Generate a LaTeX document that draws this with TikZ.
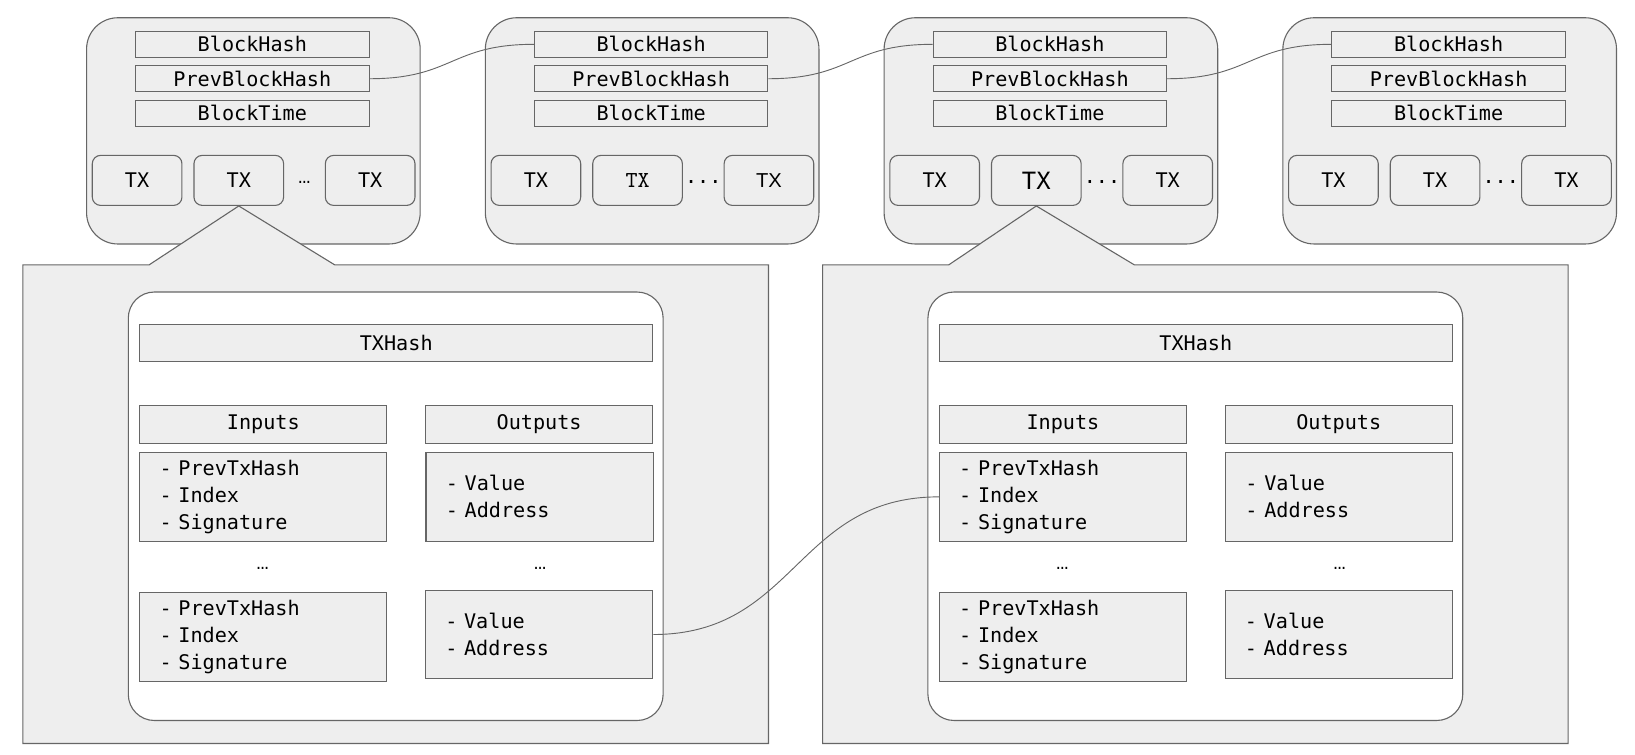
\documentclass[tikz,border=0pt]{standalone}
\usepackage{fontspec}
\setmonofont{DejaVu Sans Mono}
\setsansfont{Liberation Sans}
\newfontfamily\oldmono{lmmono10-regular.otf}
\newfontfamily\dotfont{Liberation Mono}
\definecolor{boxgray}{HTML}{EEEEEE}
\definecolor{linegray}{HTML}{666666}
\begin{document}
\begin{tikzpicture}[x=0.02cm, y=-0.02cm, line width=0.6pt,
    font=\fontsize{11}{14.8}\selectfont\ttfamily,
    block/.style={draw=linegray, fill=boxgray, rounded corners=0.6cm, minimum width=6.4cm, minimum height=4.34cm},
    field/.style={draw=linegray, fill=boxgray, minimum width=4.48cm, minimum height=0.5cm, inner sep=0pt},
    txbox/.style={draw=linegray, fill=boxgray, rounded corners=0.16cm, minimum width=1.72cm, minimum height=0.96cm, inner sep=0pt},
    callout/.style={draw=linegray, fill=boxgray},
    panel/.style={draw=linegray, fill=white, rounded corners=0.5cm, minimum width=10.26cm, minimum height=8.22cm},
    part/.style={draw=linegray, fill=boxgray, minimum height=0.72cm, inner sep=0pt},
    list/.style={draw=linegray, fill=boxgray, align=left, inner xsep=0.38cm, inner ysep=0pt, minimum height=1.7cm},
    more/.style={font=\fontsize{11}{14.8}\selectfont\dotfont},
    link/.style={draw=linegray, line width=0.5pt}]
      \useasboundingbox (0,0) rectangle (1568,724);
      \node[block] (b1) at (243,125.5) {};
      \node[field] (b1hash) at (242,42.5) {BlockHash};
      \node[field] (b1prev) at (242,75.5) {PrevBlockHash};
      \node[field] (b1time) at (242,108.5) {BlockTime};
      \node[txbox] (b1tx1) at (131.5,173) {TX};
      \node[txbox] (b1tx2) at (229,173) {TX};
      \node[txbox] (b1tx3) at (355,173) {TX};
      \node[more] (b1dots) at (292,175) {…};
      \begin{scope}[xshift=7.65cm]
      \node[block] (b2) at (243,125.5) {};
      \node[field] (b2hash) at (242,42.5) {BlockHash};
      \node[field] (b2prev) at (242,75.5) {PrevBlockHash};
      \node[field] (b2time) at (242,108.5) {BlockTime};
      \node[txbox] (b2tx1) at (131.5,173) {TX};
      \node[txbox] (b2tx2) at (229,173) {\fontsize{12.5}{15}\oldmono TX};
      \node[txbox] (b2tx3) at (355,173) {\sffamily TX};
      \node (b2dots) at (292,175) {...};
      \end{scope}
      \begin{scope}[xshift=15.3cm]
      \node[block] (b3) at (243,125.5) {};
      \node[field] (b3hash) at (242,42.5) {BlockHash};
      \node[field] (b3prev) at (242,75.5) {PrevBlockHash};
      \node[field] (b3time) at (242,108.5) {BlockTime};
      \node[txbox] (b3tx1) at (131.5,173) {TX};
      \node[txbox] (b3tx2) at (229,173) {\fontsize{13}{15}\selectfont TX};
      \node[txbox] (b3tx3) at (355,173) {TX};
      \node (b3dots) at (292,175) {...};
      \end{scope}
      \begin{scope}[xshift=22.95cm]
      \node[block] (b4) at (243,125.5) {};
      \node[field] (b4hash) at (242,42.5) {BlockHash};
      \node[field] (b4prev) at (242,75.5) {PrevBlockHash};
      \node[field] (b4time) at (242,108.5) {BlockTime};
      \node[txbox] (b4tx1) at (131.5,173) {TX};
      \node[txbox] (b4tx2) at (229,173) {TX};
      \node[txbox] (b4tx3) at (355,173) {TX};
      \node (b4dots) at (292,175) {...};
      \end{scope}
      \draw[callout] (22,254) -- (143,254) -- (b1tx2.south) -- (321,254) -- (737,254) -- (737,713) -- (22,713) -- cycle;
      \node[panel] (tx) at (379.5,485.5) {};
      \node[part, minimum width=9.84cm] (txhash) at (380,329) {TXHash};
      \node[part, minimum width=4.74cm] (inputs) at (252.5,407) {Inputs};
      \node[part, minimum width=4.36cm] (outputs) at (517,407) {Outputs};
      \node[list, text width=3.98cm] (in1) at (252.5,476.5) {- PrevTxHash\\- Index\\- Signature};
      \node[list, text width=3.6cm] (out1) at (517.5,476.5) {- Value\\- Address};
      \node[more] (indots) at (252,545) {…};
      \node[more] (outdots) at (518,545) {…};
      \node[list, text width=3.98cm] (in2) at (252.5,611) {- PrevTxHash\\- Index\\- Signature};
      \node[list, text width=3.6cm] (out2) at (517,608.5) {- Value\\- Address};
      \begin{scope}[xshift=15.34cm]
      \draw[callout] (22,254) -- (143,254) -- (b3tx2.south) -- (321,254) -- (737,254) -- (737,713) -- (22,713) -- cycle;
      \node[panel] (rtx) at (379.5,485.5) {};
      \node[part, minimum width=9.84cm] (rtxhash) at (380,329) {TXHash};
      \node[part, minimum width=4.74cm] (rinputs) at (252.5,407) {Inputs};
      \node[part, minimum width=4.36cm] (routputs) at (517,407) {Outputs};
      \node[list, text width=3.98cm] (rin1) at (252.5,476.5) {- PrevTxHash\\- Index\\- Signature};
      \node[list, text width=3.6cm] (rout1) at (517.5,476.5) {- Value\\- Address};
      \node[more] (rindots) at (252,545) {…};
      \node[more] (routdots) at (518,545) {…};
      \node[list, text width=3.98cm] (rin2) at (252.5,611) {- PrevTxHash\\- Index\\- Signature};
      \node[list, text width=3.6cm] (rout2) at (517,608.5) {- Value\\- Address};
      \end{scope}
      \draw[link] (b1prev.east) .. controls +(1.6cm,0) and +(-1.6cm,0) .. (b2hash.west);
      \draw[link] (b2prev.east) .. controls +(1.6cm,0) and +(-1.6cm,0) .. (b3hash.west);
      \draw[link] (b3prev.east) .. controls +(1.6cm,0) and +(-1.6cm,0) .. (b4hash.west);
      \draw[link] (out2.east) .. controls +(2.74cm,0) and +(-2.74cm,0) .. (rin1.west);
    \end{tikzpicture}
\end{document}
